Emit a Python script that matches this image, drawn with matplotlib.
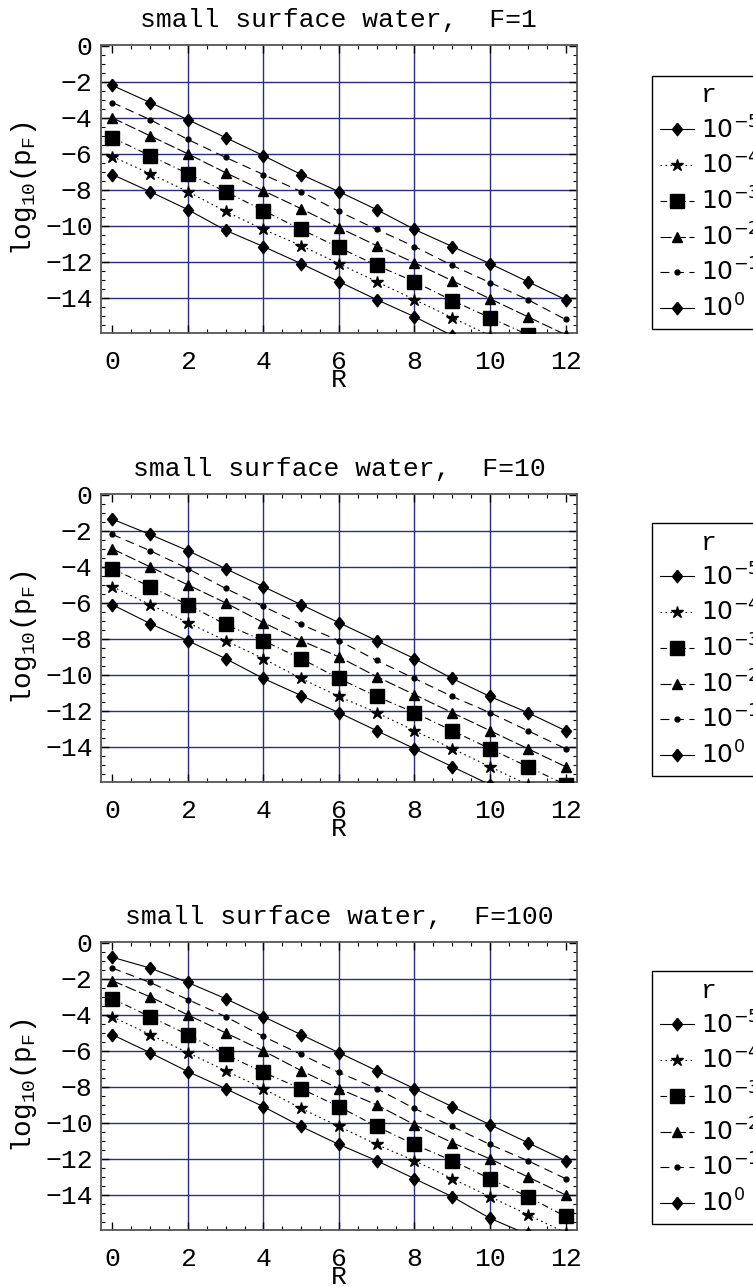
import matplotlib
matplotlib.use("Agg")
import matplotlib.pyplot as plt
from matplotlib.lines import Line2D
from matplotlib.ticker import MultipleLocator

plt.rcParams['font.family'] = ['Liberation Mono', 'DejaVu Sans Mono']
plt.rcParams['mathtext.fontset'] = 'custom'
plt.rcParams['mathtext.rm'] = 'Liberation Mono'
plt.rcParams['mathtext.it'] = 'Liberation Mono'

# data: log10(p_F) vs R, rows ordered r = 1e-5, 1e-4, 1e-3, 1e-2, 1e-1, 1e0
R = list(range(13))
r_labels = [r'$10^{-5}$', r'$10^{-4}$', r'$10^{-3}$', r'$10^{-2}$', r'$10^{-1}$', r'$10^{0}$']
F_values = [1, 10, 100]

logp_F1 = [
    [-7.15, -8.1, -9.1, -10.25, -11.15, -12.1, -13.1, -14.1, -15.05, -16.1],
    [-6.15, -7.1, -8.1, -9.2, -10.2, -11.1, -12.1, -13.1, -14.1, -15.1, -16.1],
    [-5.1, -6.1, -7.1, -8.1, -9.15, -10.2, -11.2, -12.2, -13.1, -14.15, -15.1, -16.05],
    [-4.0, -5.0, -6.0, -7.05, -8.05, -9.05, -10.1, -11.1, -12.05, -13.05, -14.05, -15.05, -16.05],
    [-3.15, -4.1, -5.2, -6.2, -7.15, -8.1, -9.2, -10.2, -11.15, -12.2, -13.15, -14.1, -15.2],
    [-2.2, -3.15, -4.1, -5.1, -6.1, -7.15, -8.1, -9.1, -10.2, -11.15, -12.1, -13.1, -14.1],
]
logp_F10 = [
    [-6.1, -7.15, -8.1, -9.1, -10.2, -11.15, -12.1, -13.1, -14.1, -15.1, -16.1],
    [-5.1, -6.1, -7.1, -8.1, -9.1, -10.2, -11.2, -12.1, -13.1, -14.1, -15.1, -16.1],
    [-4.1, -5.1, -6.1, -7.2, -8.1, -9.1, -10.2, -11.2, -12.1, -13.1, -14.1, -15.1, -16.1],
    [-3.0, -4.0, -5.0, -6.0, -7.1, -8.1, -9.0, -10.1, -11.1, -12.1, -13.1, -14.1, -15.1],
    [-2.2, -3.1, -4.1, -5.2, -6.2, -7.2, -8.1, -9.2, -10.2, -11.2, -12.1, -13.1, -14.1],
    [-1.35, -2.2, -3.1, -4.1, -5.1, -6.1, -7.1, -8.1, -9.1, -10.2, -11.2, -12.1, -13.1],
]
logp_F100 = [
    [-5.1, -6.1, -7.15, -8.1, -9.1, -10.2, -11.2, -12.1, -13.1, -14.1, -15.3, -16.2],
    [-4.1, -5.1, -6.1, -7.1, -8.1, -9.2, -10.2, -11.2, -12.1, -13.1, -14.1, -15.1, -16.1],
    [-3.1, -4.1, -5.1, -6.2, -7.2, -8.1, -9.1, -10.2, -11.2, -12.1, -13.1, -14.1, -15.2],
    [-2.1, -3.0, -4.0, -5.0, -6.0, -7.1, -8.1, -9.0, -10.1, -11.1, -12.0, -13.0, -14.0],
    [-1.4, -2.2, -3.15, -4.1, -5.2, -6.2, -7.2, -8.1, -9.2, -10.2, -11.2, -12.1, -13.1],
    [-0.8, -1.4, -2.2, -3.1, -4.1, -5.1, -6.1, -7.1, -8.1, -9.1, -10.1, -11.1, -12.1],
]
panels = [logp_F1, logp_F10, logp_F100]

xgrid = [2, 4, 6, 8, 10]
ygrid = [-2, -4, -6, -8, -10, -12, -14]

# marker / line style per r
diamond = [(0, 1), (0.8, 0), (0, -1), (-0.8, 0), (0, 1)]
markers = [diamond, '*', 's', '^', 'o', diamond]
msizes = [9, 9, 10, 7.5, 3.5, 9]
styles = ['-', (0, (1.5, 3)), (0, (6, 3, 1, 3)), (0, (10, 3)), (0, (8, 5)), '-']

fig = plt.figure(figsize=(7.53, 12.87), dpi=100)
bottoms = [0.7413, 0.3924, 0.0443]
leg_tops = [1 - 76 / 1287, 1 - 523 / 1287, 1 - 971 / 1287]

for k in range(3):
    ax = fig.add_axes([0.1341, bottoms[k], 0.632, 0.2238])
    for v in xgrid:
        ax.axvline(v, color='#2b2b8c', lw=1.0, zorder=0)
    for v in ygrid:
        ax.axhline(v, color='#2b2b8c', lw=1.0, zorder=0)
    handles = [Line2D([], [], linestyle='none')]
    for i, y in enumerate(panels[k]):
        ln, = ax.plot(R[:len(y)], y, color='black', lw=0.8, linestyle=styles[i],
                      marker=markers[i], ms=msizes[i], mfc='black', mec='black', zorder=3)
        handles.append(ln)
    ax.set_xlim(-0.3, 12.3)
    ax.set_ylim(-15.95, 0.05)
    ax.xaxis.set_major_locator(MultipleLocator(2))
    ax.xaxis.set_minor_locator(MultipleLocator(0.5))
    ax.yaxis.set_major_locator(MultipleLocator(2))
    ax.yaxis.set_minor_locator(MultipleLocator(0.5))
    ax.tick_params(which='both', direction='in', top=True, right=True, color='black')
    ax.tick_params(which='major', length=6, width=1, labelsize=19)
    ax.tick_params(which='minor', length=3, width=0.8)
    ax.tick_params(axis='x', pad=12)
    ax.tick_params(axis='y', pad=6)
    for s in ax.spines.values():
        s.set_color('#555555')
        s.set_linewidth(1.3)
    ax.set_title('small surface water,  F=%d' % F_values[k], fontsize=19, pad=13)
    ax.set_xlabel('R', fontsize=19, labelpad=-4)
    ax.set_ylabel(r'log$_{10}$(p$_{\rm F}$)', fontsize=20, labelpad=4)

    leg = ax.legend(handles, ['r'] + r_labels, loc='upper left',
                    bbox_to_anchor=(652 / 753, leg_tops[k]), bbox_transform=fig.transFigure,
                    borderaxespad=0, fontsize=18, handlelength=1.36, handletextpad=0.3,
                    labelspacing=0.34, borderpad=0.3, fancybox=False, framealpha=1,
                    edgecolor='black')
    leg.get_frame().set_linewidth(1.0)
    texts = leg.get_texts()
    texts[0].set_fontfamily('Liberation Mono')
    texts[0].set_fontsize(19)
    for t in texts[1:]:
        t.set_fontfamily('DejaVu Sans')
        t.set_math_fontfamily('dejavusans')

fig.savefig('out.png', dpi=100)
